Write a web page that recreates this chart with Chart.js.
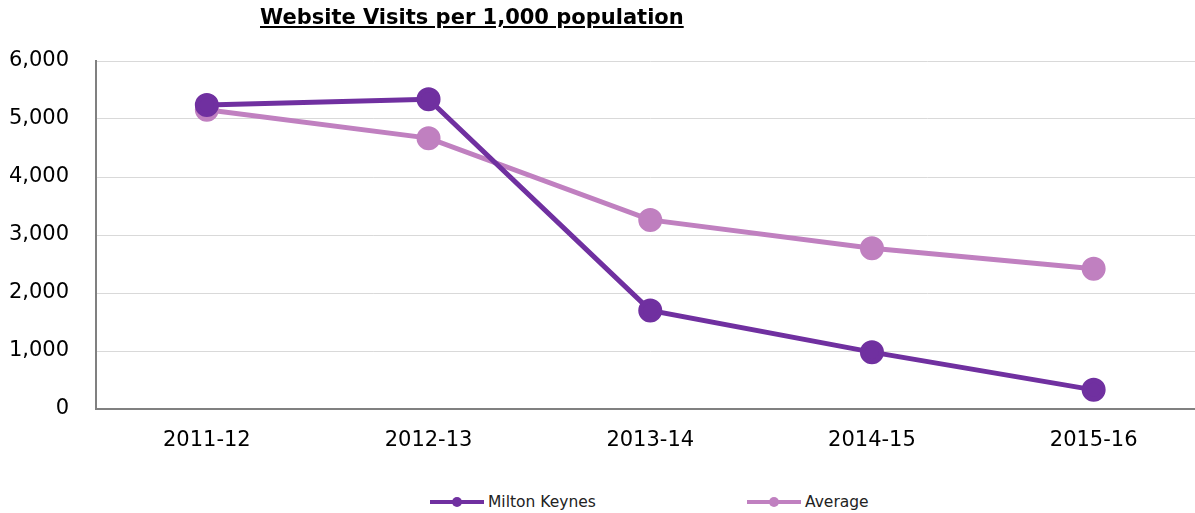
<!DOCTYPE html>
<html>
<head>
<meta charset="utf-8">
<script src="https://cdn.jsdelivr.net/npm/chart.js@4/dist/chart.umd.min.js"></script>
<style>
  html, body { margin: 0; padding: 0; background: #fff; overflow: hidden; }
  #wrap { position: relative; width: 1195px; height: 513px; overflow: hidden; }
  #box { position: absolute; left: 0; top: 0; width: 1219px; height: 470px; }
  #title {
    position: absolute; left: 260px; top: 5px;
    font: bold 21px "DejaVu Sans", sans-serif;
    text-decoration: underline; color: #000; white-space: nowrap;
  }
  #legend { position: absolute; top: 492px; left: 0; font: 15.5px "DejaVu Sans", sans-serif; color: #222; }
  .item { position: absolute; top: 0; white-space: nowrap; display: flex; align-items: center; height: 20px; }
  .sw { position: relative; width: 54px; height: 20px; margin-right: 4px; }
  .sw .ln { position: absolute; left: 0; right: 0; top: 8px; height: 4px; }
  .sw .dt { position: absolute; left: 22px; top: 5px; width: 10px; height: 10px; border-radius: 50%; }
</style>
</head>
<body>
<div id="wrap">
  <div id="box"><canvas id="myChart"></canvas></div>
  <div id="title">Website Visits per 1,000 population</div>
  <div id="legend"></div>
</div>
<script>
const years = ['2011-12', '2012-13', '2013-14', '2014-15', '2015-16'];
const miltonKeynes = [5240, 5340, 1700, 980, 330];
const average = [5160, 4670, 3260, 2770, 2420];
const seriesNames = ['Milton Keynes', 'Average'];
const seriesColors = ['#7030A0', '#C080C0'];

const ctx = document.getElementById('myChart').getContext('2d');

const chartData = {
    labels: years,
    datasets: [miltonKeynes, average].map((vals, i) => ({
        label: seriesNames[i],
        data: vals,
        borderColor: seriesColors[i],
        backgroundColor: seriesColors[i],
        borderWidth: 5,
        pointRadius: 9.5,
        pointHoverRadius: 9.5,
        tension: 0,
        fill: false,
    })),
};

const chart = new Chart(ctx, {
    type: 'line',
    data: chartData,
    options: {
        responsive: true,
        maintainAspectRatio: false,
        animation: false,
        layout: { padding: { top: 61, left: 0, right: 0, bottom: 0 } },
        plugins: {
            legend: { display: false },
            tooltip: { enabled: false },
        },
        scales: {
            x: {
                offset: true,
                grid: { display: false, drawTicks: false },
                border: { color: '#808080', width: 2 },
                ticks: {
                    color: '#000',
                    padding: 19,
                    font: { family: 'DejaVu Sans', size: 21 },
                },
                afterFit: (s) => { s.height = 61; },
            },
            y: {
                min: 0,
                max: 6000,
                ticks: {
                    stepSize: 1000,
                    color: '#000',
                    padding: 27,
                    font: { family: 'DejaVu Sans', size: 21 },
                },
                grid: { color: '#D9D9D9', lineWidth: 1, drawTicks: false },
                border: { color: '#808080', width: 2 },
                afterFit: (s) => { s.width = 96; },
            },
        },
    },
});

// legend in HTML, line with a dot like the original
const legendPos = [430, 747];
const legend = document.getElementById('legend');
chart.data.datasets.forEach((ds, i) => {
    const it = document.createElement('div');
    it.className = 'item';
    it.style.left = legendPos[i] + 'px';
    it.innerHTML = '<span class="sw"><span class="ln" style="background:' + ds.borderColor +
        '"></span><span class="dt" style="background:' + ds.borderColor + '"></span></span>' + ds.label;
    legend.appendChild(it);
});
</script>
</body>
</html>
